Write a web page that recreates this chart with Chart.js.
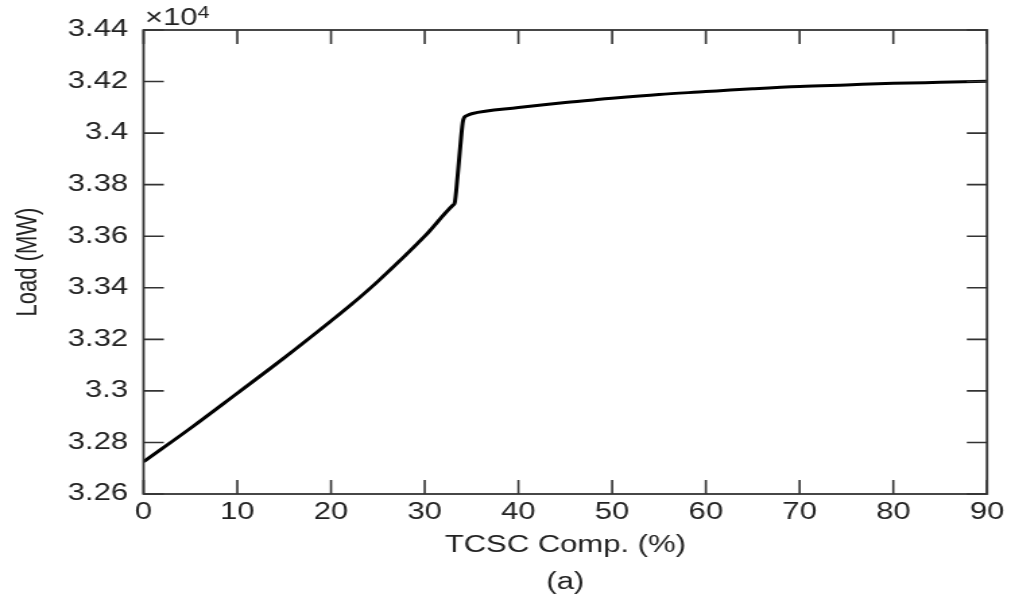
<!DOCTYPE html>
<html>
<head>
<meta charset="utf-8">
<script src="https://cdn.jsdelivr.net/npm/chart.js@4.4.1/dist/chart.umd.min.js"></script>
<style>
  html, body { margin: 0; padding: 0; background: #fff; }
  /* the original figure is stretched sideways, so the canvas is too */
  #loadChart { display: block; width: 1011px !important; height: 601px !important; }
</style>
</head>
<body>
<canvas id="loadChart" width="750" height="601"></canvas>
<script>
// TCSC compensation (%) vs. load (MW)
const compPct = [0, 5, 10, 15, 20, 22, 25, 30, 33, 33.2, 33.5, 33.8, 34.1, 34.5, 35, 40, 45, 48.7, 55, 60, 62.6, 65, 70, 75, 80, 85, 90];
const loadMW = [32725, 32855, 32991, 33128, 33271, 33330, 33425, 33600, 33720, 33730, 33830, 33950, 34050, 34068, 34075, 34099, 34119, 34131, 34150, 34161, 34167, 34172, 34181, 34187, 34193, 34197, 34201];
const xTicks = [0, 10, 20, 30, 40, 50, 60, 70, 80, 90];
const yTicks = [3.26, 3.28, 3.3, 3.32, 3.34, 3.36, 3.38, 3.4, 3.42, 3.44];
const yScaleExp = 4; // axis shows values x10^4

const FONT = '"Liberation Sans", Arial, Helvetica, sans-serif';
const INK = '#222';

// box round the plot, inward ticks on all four sides, and the x10^4 note
const frameTicks = {
  id: 'frameTicks',
  afterDraw(chart) {
    const { ctx, chartArea: a, scales } = chart;
    ctx.save();
    ctx.strokeStyle = '#333';
    ctx.lineWidth = 1.8;
    ctx.strokeRect(a.left, a.top, a.right - a.left, a.bottom - a.top);

    ctx.lineWidth = 1.6;
    ctx.beginPath();
    xTicks.forEach(v => {
      const px = scales.x.getPixelForValue(v);
      ctx.moveTo(px, a.bottom); ctx.lineTo(px, a.bottom - 14);
      ctx.moveTo(px, a.top); ctx.lineTo(px, a.top + 14);
    });
    yTicks.forEach(v => {
      const py = scales.y.getPixelForValue(v);
      ctx.moveTo(a.left, py); ctx.lineTo(a.left + 15, py);
      ctx.moveTo(a.right, py); ctx.lineTo(a.right - 15, py);
    });
    ctx.stroke();

    // exponent label
    ctx.fillStyle = INK;
    ctx.textBaseline = 'alphabetic';
    ctx.textAlign = 'left';
    ctx.font = '23px ' + FONT;
    const base = '\u00d710';
    ctx.fillText(base, a.left + 1, a.top - 5);
    const w = ctx.measureText(base).width;
    ctx.font = '16px ' + FONT;
    ctx.fillText(String(yScaleExp), a.left + 1 + w, a.top - 12);
    ctx.restore();
  }
};

const chart = new Chart(document.getElementById('loadChart'), {
  type: 'line',
  data: {
    datasets: [{
      label: 'Load',
      data: compPct.map((c, i) => ({ x: c, y: loadMW[i] / Math.pow(10, yScaleExp) })),
      borderColor: '#000',
      borderWidth: 3,
      pointRadius: 0,
      fill: false,
      cubicInterpolationMode: 'monotone'
    }]
  },
  options: {
    responsive: false,
    animation: false,
    events: [],
    layout: { padding: { top: 30, right: 17, left: 0, bottom: 0 } },
    plugins: {
      legend: { display: false },
      tooltip: { enabled: false }
    },
    scales: {
      x: {
        type: 'linear',
        min: 0,
        max: 90,
        afterBuildTicks: s => { s.ticks = xTicks.map(v => ({ value: v })); },
        afterFit: s => { s.height = 107; },
        grid: { display: false, drawTicks: false },
        border: { display: false },
        ticks: {
          padding: 5,
          color: INK,
          font: { family: FONT, size: 23 },
          maxRotation: 0
        },
        title: {
          display: true,
          text: ['TCSC Comp. (%)', '(a)'],
          color: INK,
          font: { family: FONT, size: 23, lineHeight: 1.6 },
          padding: { top: 0, bottom: 0 }
        }
      },
      y: {
        type: 'linear',
        min: 3.26,
        max: 3.44,
        afterBuildTicks: s => { s.ticks = yTicks.map(v => ({ value: v })); },
        afterFit: s => { s.width = 106.5; },
        grid: { display: false, drawTicks: false },
        border: { display: false },
        ticks: {
          padding: 11.5,
          color: INK,
          font: { family: FONT, size: 23 },
          callback: v => String(parseFloat(v.toFixed(2)))
        },
        title: {
          display: true,
          text: 'Load (MW)',
          color: INK,
          font: { family: FONT, size: 22 },
          padding: { top: 8, bottom: 0 }
        }
      }
    }
  },
  plugins: [frameTicks]
});
</script>
</body>
</html>
